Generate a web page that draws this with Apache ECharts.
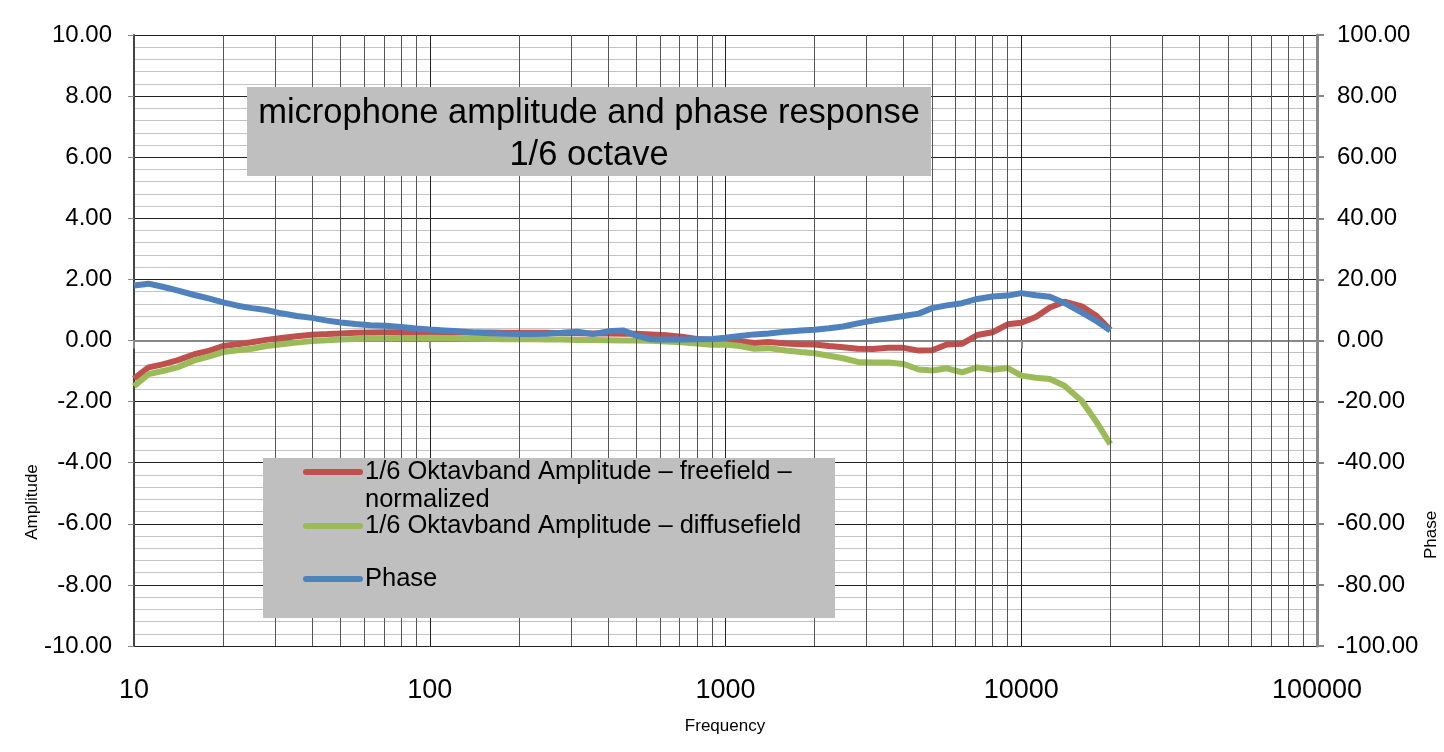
<!DOCTYPE html>
<html>
<head>
<meta charset="utf-8">
<script src="https://cdn.jsdelivr.net/npm/echarts@6/dist/echarts.min.js"></script>
<style>html,body{margin:0;padding:0;background:#fff;}#c{width:1444px;height:752px;}</style>
</head>
<body>
<div id="c"></div>
<script>
const freqs = [10,11.2,12.5,14,16,18,20,22.4,25,28,31.5,35.5,40,45,50,56,63,71,80,90,100,112,125,140,160,180,200,224,250,280,315,355,400,450,500,560,630,710,800,900,1000,1120,1250,1400,1600,1800,2000,2240,2500,2800,3150,3550,4000,4500,5000,5600,6300,7100,8000,9000,10000,11200,12500,14000,16000,18000,20000];
const freefield = [-1.25,-0.88,-0.78,-0.65,-0.45,-0.33,-0.18,-0.12,-0.06,0.02,
  0.08,0.14,0.19,0.21,0.23,0.25,0.26,0.27,0.27,0.25,
  0.24,0.25,0.26,0.26,0.26,0.25,0.25,0.25,0.25,0.24,
  0.24,0.23,0.23,0.22,0.22,0.20,0.17,0.12,0.05,0.02,
  0.00,-0.02,-0.08,-0.05,-0.10,-0.12,-0.13,-0.18,-0.22,-0.27,
  -0.28,-0.24,-0.24,-0.33,-0.32,-0.13,-0.11,0.18,0.27,0.53,
  0.58,0.77,1.08,1.27,1.12,0.80,0.35];
const diffusefield = [-1.50,-1.10,-1.00,-0.88,-0.65,-0.52,-0.38,-0.32,-0.27,-0.18,
  -0.12,-0.07,-0.02,0.01,0.03,0.05,0.07,0.07,0.08,0.08,
  0.09,0.08,0.07,0.06,0.05,0.04,0.04,0.04,0.03,0.03,
  0.02,0.02,0.01,0.00,0.00,-0.01,-0.03,-0.06,-0.10,-0.14,
  -0.13,-0.18,-0.27,-0.25,-0.33,-0.38,-0.42,-0.50,-0.58,-0.70,
  -0.72,-0.72,-0.77,-0.95,-0.98,-0.91,-1.04,-0.88,-0.96,-0.90,
  -1.15,-1.22,-1.26,-1.48,-1.97,-2.68,-3.39];
const phase = [18.0,18.6,17.6,16.4,14.9,13.7,12.5,11.4,10.6,10.0,
  8.9,8.0,7.4,6.5,5.9,5.4,5.0,4.8,4.4,3.9,
  3.6,3.3,3.0,2.6,2.4,2.2,2.1,2.1,2.2,2.5,
  2.9,2.1,3.0,3.3,1.6,0.4,0.3,0.3,0.4,0.5,
  0.9,1.5,2.0,2.3,2.9,3.3,3.5,4.0,4.6,5.6,
  6.5,7.3,8.0,8.8,10.6,11.5,12.2,13.6,14.4,14.7,
  15.5,14.8,14.3,12.3,9.2,6.3,3.3];
const minorGridFreqs = [20,30,40,50,60,70,80,90,200,300,400,500,600,700,800,900,2000,3000,4000,5000,6000,7000,8000,9000,20000,30000,40000,50000,60000,70000,80000,90000];
const seriesNames = ['1/6 Oktavband Amplitude – freefield – normalized','1/6 Oktavband Amplitude – diffusefield','Phase'];
const titleLines = ['microphone amplitude and phase response','1/6 octave'];

const FONT = '"Liberation Sans", Arial, sans-serif';
const colors = ['#c0504d','#9bbb59','#4f81bd'];
const chart = echarts.init(document.getElementById('c'));
const pairs = arr => freqs.map((f,i)=>[f, arr[i]]);

chart.setOption({
  animation: false,
  backgroundColor: '#fff',
  grid: {left: 134, right: 127, top: 35, bottom: 106},
  xAxis: {
    type: 'log', logBase: 10, min: 10, max: 100000,
    axisLine: {lineStyle: {color: '#888', width: 2}},
    axisTick: {length: 8, lineStyle: {color: '#888', width: 2}},
    axisLabel: {fontSize: 27, color: '#000', margin: 31, fontFamily: FONT, formatter: v => String(Math.round(v))},
    splitLine: {show: true, lineStyle: {color: '#222', width: 1}}
  },
  yAxis: [{
    type: 'value', min: -10, max: 10, interval: 2, position: 'left',
    axisLine: {show: true, lineStyle: {color: '#444', width: 2}},
    axisTick: {show: true, length: 6, lineStyle: {color: '#888', width: 1}},
    axisLabel: {fontSize: 24, color: '#000', margin: 22, fontFamily: FONT, formatter: v => v.toFixed(2)},
    splitLine: {show: true, lineStyle: {color: '#222', width: 1}},
    minorTick: {show: false, splitNumber: 5},
    minorSplitLine: {show: true, lineStyle: {color: '#c4c4c4', width: 1}}
  }, {
    type: 'value', min: -100, max: 100, interval: 20, position: 'right',
    axisLine: {show: true, lineStyle: {color: '#888', width: 3}},
    axisTick: {show: true, length: 7, lineStyle: {color: '#888', width: 2}},
    axisLabel: {fontSize: 24, color: '#000', margin: 20, fontFamily: FONT, formatter: v => v.toFixed(2)},
    splitLine: {show: false}
  }],
  series: [{
    type: 'line', name: 'minorgrid', data: [], z: 1, silent: true,
    markLine: {
      silent: true, symbol: 'none', animation: false,
      label: {show: false},
      lineStyle: {color: '#555', width: 1, type: 'solid'},
      emphasis: {disabled: true},
      data: minorGridFreqs.map(f => ({xAxis: f}))
    }
  }, {
    type: 'line', name: seriesNames[0], data: pairs(freefield), yAxisIndex: 0,
    showSymbol: false, z: 3, lineStyle: {color: colors[0], width: 6}, itemStyle: {color: colors[0]}
  }, {
    type: 'line', name: seriesNames[1], data: pairs(diffusefield), yAxisIndex: 0,
    showSymbol: false, z: 4, lineStyle: {color: colors[1], width: 6}, itemStyle: {color: colors[1]}
  }, {
    type: 'line', name: seriesNames[2], data: pairs(phase), yAxisIndex: 1,
    showSymbol: false, z: 5, lineStyle: {color: colors[2], width: 6}, itemStyle: {color: colors[2]}
  }],
  graphic: [
    {type: 'rect', z: 100, shape: {x: 247, y: 87, width: 684, height: 89}, style: {fill: '#bfbfbf'}},
    {type: 'text', z: 101, style: {x: 589, y: 134, text: titleLines.join('\n'), align: 'center', verticalAlign: 'middle', fontSize: 34.5, lineHeight: 42, fontFamily: FONT, fill: '#000'}},
    {type: 'rect', z: 100, shape: {x: 263, y: 458, width: 572, height: 160}, style: {fill: '#bfbfbf'}},
    {type: 'line', z: 101, shape: {x1: 306, y1: 472, x2: 360, y2: 472}, style: {stroke: colors[0], lineWidth: 6, lineCap: 'round'}},
    {type: 'line', z: 101, shape: {x1: 306, y1: 526, x2: 360, y2: 526}, style: {stroke: colors[1], lineWidth: 6, lineCap: 'round'}},
    {type: 'line', z: 101, shape: {x1: 306, y1: 579, x2: 360, y2: 579}, style: {stroke: colors[2], lineWidth: 6, lineCap: 'round'}},
    {type: 'text', z: 101, style: {x: 365, y: 472, text: '1/6 Oktavband Amplitude – freefield –', verticalAlign: 'middle', fontSize: 25.5, fontFamily: FONT, fill: '#000'}},
    {type: 'text', z: 101, style: {x: 365, y: 500, text: 'normalized', verticalAlign: 'middle', fontSize: 25.5, fontFamily: FONT, fill: '#000'}},
    {type: 'text', z: 101, style: {x: 365, y: 526, text: seriesNames[1], verticalAlign: 'middle', fontSize: 25.5, fontFamily: FONT, fill: '#000'}},
    {type: 'text', z: 101, style: {x: 365, y: 579, text: seriesNames[2], verticalAlign: 'middle', fontSize: 25.5, fontFamily: FONT, fill: '#000'}},
    {type: 'text', z: 101, x: 32, y: 502, rotation: Math.PI / 2, style: {text: 'Amplitude', align: 'center', verticalAlign: 'middle', fontSize: 17, fontFamily: FONT, fill: '#000'}},
    {type: 'text', z: 101, x: 1431, y: 535, rotation: Math.PI / 2, style: {text: 'Phase', align: 'center', verticalAlign: 'middle', fontSize: 17, fontFamily: FONT, fill: '#000'}},
    {type: 'text', z: 101, style: {x: 725, y: 726, text: 'Frequency', align: 'center', verticalAlign: 'middle', fontSize: 17, fontFamily: FONT, fill: '#000'}}
  ]
});
</script>
</body>
</html>
